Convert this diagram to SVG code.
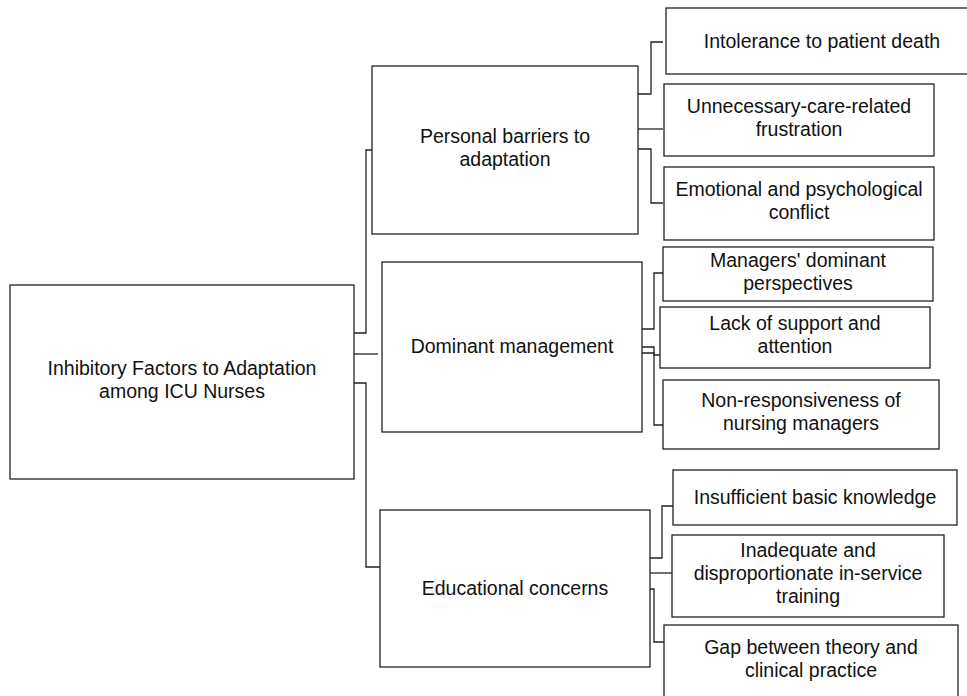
<svg xmlns="http://www.w3.org/2000/svg" width="967" height="696" viewBox="0 0 967 696">
<style>
.box{fill:#fff;stroke:#222;stroke-width:1.3}
.con{fill:none;stroke:#222;stroke-width:1.3}
text{font-family:"Liberation Sans",Arial,sans-serif;font-size:19.5px;fill:#111;text-anchor:middle}
</style>
<rect width="967" height="696" fill="#fff"/>
<g id="connectors">
<polyline class="con" points="354,333 366,333 366,150 372,150"/>
<polyline class="con" points="354,354 378,354"/>
<polyline class="con" points="354,383 366,383 366,567 380,567"/>
<polyline class="con" points="638,94 651,94 651,42 663,42"/>
<polyline class="con" points="638,129 663,129"/>
<polyline class="con" points="638,149 651,149 651,203 663,203"/>
<polyline class="con" points="642,329 654,329 654,273 663,273"/>
<polyline class="con" points="642,347 654,347 654,355 660,355"/>
<polyline class="con" points="642,353 654,353 654,425 663,425"/>
<polyline class="con" points="650,558 662,558 662,506 673,506"/>
<polyline class="con" points="650,573 672,573"/>
<polyline class="con" points="650,589 654,589 654,642 664,642"/>
</g>
<g id="root">
<rect class="box" x="10" y="285" width="344" height="194"/>
<text x="182" y="375">Inhibitory Factors to Adaptation</text>
<text x="182" y="398">among ICU Nurses</text>
</g>
<g id="personal">
<rect class="box" x="372" y="66" width="266" height="168"/>
<text x="505" y="143">Personal barriers to</text>
<text x="505" y="166">adaptation</text>
</g>
<g id="dominant">
<rect class="box" x="382" y="262" width="260" height="170"/>
<text x="512" y="353">Dominant management</text>
</g>
<g id="educational">
<rect class="box" x="380" y="510" width="270" height="157"/>
<text x="515" y="595">Educational concerns</text>
</g>
<g id="intolerance">
<rect class="box" x="666" y="8" width="312" height="66"/>
<text x="822" y="48">Intolerance to patient death</text>
</g>
<g id="unnecessary">
<rect class="box" x="664" y="84" width="270" height="72"/>
<text x="799" y="113">Unnecessary-care-related</text>
<text x="799" y="136">frustration</text>
</g>
<g id="emotional">
<rect class="box" x="664" y="167" width="270" height="73"/>
<text x="799" y="196">Emotional and psychological</text>
<text x="799" y="219">conflict</text>
</g>
<g id="managers">
<rect class="box" x="663" y="247" width="270" height="54"/>
<text x="798" y="267">Managers' dominant</text>
<text x="798" y="290">perspectives</text>
</g>
<g id="lack">
<rect class="box" x="660" y="307" width="270" height="61"/>
<text x="795" y="330">Lack of support and</text>
<text x="795" y="353">attention</text>
</g>
<g id="nonresp">
<rect class="box" x="663" y="380" width="276" height="69"/>
<text x="801" y="407">Non-responsiveness of</text>
<text x="801" y="430">nursing managers</text>
</g>
<g id="insufficient">
<rect class="box" x="673" y="470" width="284" height="55"/>
<text x="815" y="504">Insufficient basic knowledge</text>
</g>
<g id="inadequate">
<rect class="box" x="672" y="535" width="272" height="82"/>
<text x="808" y="557">Inadequate and</text>
<text x="808" y="580">disproportionate in-service</text>
<text x="808" y="603">training</text>
</g>
<g id="gap">
<rect class="box" x="664" y="625" width="294" height="80"/>
<text x="811" y="654">Gap between theory and</text>
<text x="811" y="677">clinical practice</text>
</g>
</svg>
